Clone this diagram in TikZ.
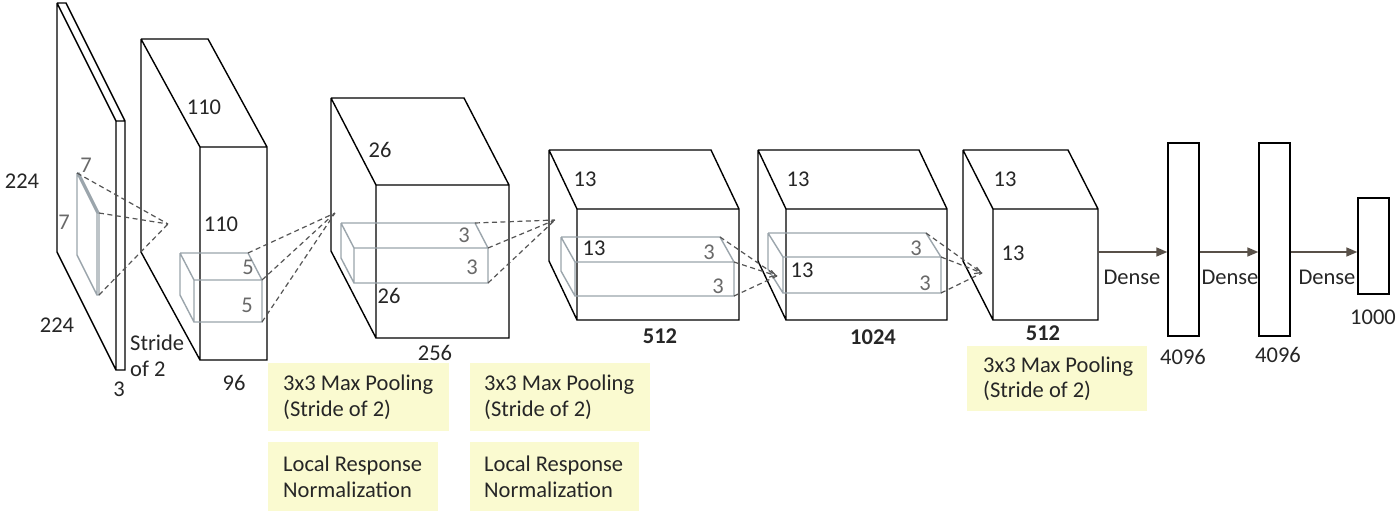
\documentclass[tikz,border=0pt]{standalone}
\usepackage{fontspec}
\setmainfont{Carlito}
\usetikzlibrary{arrows.meta}
\definecolor{kgray}{RGB}{155,165,172}
\definecolor{tgray}{RGB}{105,105,105}
\definecolor{dgray}{RGB}{85,85,85}
\definecolor{ybg}{RGB}{250,250,208}
\definecolor{arr}{RGB}{88,80,72}
\newcommand{\mkcube}[8]{%
  \coordinate (#1-btl) at (#2,#3);
  \coordinate (#1-btr) at (#2+#4,#3);
  \coordinate (#1-bbl) at (#2,#3+#5);
  \coordinate (#1-ftl) at (#2+#6,#3+#7);
  \coordinate (#1-ftr) at (#2+#4+#6,#3+#7);
  \coordinate (#1-fbl) at (#2+#6,#3+#5+#7);
  \coordinate (#1-fbr) at (#2+#4+#6,#3+#5+#7);
  \draw[#8] (#1-ftl) rectangle (#1-fbr)
    (#1-btl) -- (#1-btr) -- (#1-ftr)
    (#1-btl) -- (#1-ftl)
    (#1-btl) -- (#1-bbl) -- (#1-fbl);
}
\begin{document}
\begin{tikzpicture}[x=1pt,y=-1pt,
  layer/.style={draw=black,line width=1.4pt,line join=miter},
  kern/.style={draw=kgray,line width=1.4pt},
  dsh/.style={draw=dgray,line width=1.2pt,dash pattern=on 5pt off 3.5pt},
  dsharr/.style={dsh,-{Straight Barb[length=6pt,width=7pt]}},
  lbl/.style={font=\fontsize{22.5}{26}\selectfont,inner sep=0pt,text=black!85},
  blbl/.style={lbl,font=\fontsize{22.5}{26}\selectfont\bfseries},
  glbl/.style={lbl,text=tgray},
  fcbox/.style={draw=black,line width=1.4pt,minimum width=31pt,inner sep=0pt},
  densearr/.style={draw=arr,line width=1.4pt,-{Triangle[length=11pt,width=9pt]}},
  ybox/.style={fill=ybg,anchor=north west,inner sep=0pt},
  ytext/.style={anchor=west,align=left,inner sep=0pt,
    font=\fontsize{22.5}{25.5}\selectfont,text=black!85}
]
\useasboundingbox[fill=white] (0,0) rectangle (1400,516);

% layers
\mkcube{in}{57}{3}{9}{249}{59}{118}{layer}
\mkcube{la}{141}{39}{67}{213}{59}{108}{layer}
\mkcube{lb}{331}{98}{133}{153}{45}{87}{layer}
\mkcube{lc}{549}{150}{162}{111}{28}{59}{layer}
\mkcube{ld}{758}{150}{161}{111}{28}{59}{layer}
\mkcube{le}{963}{150}{105}{111}{30}{59}{layer}

% kernels
\mkcube{ka}{77}{173}{2}{82}{20}{40}{kern}
\mkcube{kb}{180}{253}{68}{42}{14}{27}{kern}
\mkcube{kc}{341}{223}{134}{35}{13}{25}{kern}
\mkcube{kd}{561}{237}{159}{34}{14}{25}{kern}
\mkcube{ke}{768}{233}{158}{36}{15}{24}{kern}

% convergence points
\coordinate (pa) at (168,224);
\coordinate (pb) at (335,213);
\coordinate (pc) at (555,220);
\coordinate (pd) at (777,276);
\coordinate (pe) at (982,273);

\draw[dsh] (ka-btl) -- (pa) (ka-ftr) -- (pa) (ka-fbr) -- (pa);
\draw[dsh] (kb-btr) -- (pb) (kb-ftr) -- (pb) (kb-fbr) -- (pb);
\draw[dsh] (kc-btr) -- (pc) (kc-ftr) -- (pc) (kc-fbr) -- (pc);
\draw[dsh] (kd-btr) -- (pd) (kd-fbr) -- (pd);
\draw[dsharr] (kd-ftr) -- (pd);
\draw[dsh] (ke-btr) -- (pe) (ke-fbr) -- (pe);
\draw[dsharr] (ke-ftr) -- (pe);

% labels
\node[lbl] (t224a) at (22,181) {224};
\node[lbl] (t224b) at (57,325) {224};
\node[glbl] (t7a) at (86,165) {7};
\node[glbl] (t7b) at (64,222) {7};
\node[lbl,anchor=west,align=left] (tstride) at (130,356) {Stride\\of 2};
\node[lbl] (t3) at (119,389) {3};
\node[lbl] (t110a) at (204,107) {110};
\node[lbl] (t110b) at (221,224) {110};
\node[lbl] (t96) at (234,383) {96};
\node[glbl] (t5a) at (248,267) {5};
\node[glbl] (t5b) at (247,305) {5};
\node[lbl] (t26a) at (380,150) {26};
\node[lbl] (t26b) at (389,296) {26};
\node[lbl] (t256) at (435,353) {256};
\node[glbl] (t3a) at (464,235) {3};
\node[glbl] (t3b) at (472,267) {3};
\node[lbl] (t13a) at (585,179) {13};
\node[lbl] (t13b) at (594,248) {13};
\node[blbl] (t512a) at (660,336) {512};
\node[glbl] (t3c) at (709,252) {3};
\node[glbl] (t3d) at (718,286) {3};
\node[lbl] (t13c) at (798,179) {13};
\node[lbl] (t13d) at (802,270) {13};
\node[blbl] (t1024) at (873,337) {1024};
\node[glbl] (t3e) at (916,248) {3};
\node[glbl] (t3f) at (925,283) {3};
\node[lbl] (t13e) at (1005,179) {13};
\node[lbl] (t13f) at (1013,253) {13};
\node[blbl] (t512b) at (1043,333) {512};

% dense layers
\node[fcbox,minimum height=193pt] (fca) at (1183.5,239.5) {};
\node[fcbox,minimum height=193pt] (fcb) at (1274.5,239.5) {};
\node[fcbox,minimum height=96pt] (fcc) at (1373.5,246) {};
\coordinate (d0) at (1098,252);
\draw[densearr] (d0) -- (fca.west |- d0);
\draw[densearr] (fca.east |- d0) -- (fcb.west |- d0);
\draw[densearr] (fcb.east |- d0) -- (fcc.west |- d0);
\node[lbl] (tda) at (1132,277) {Dense};
\node[lbl] (tdb) at (1230,277) {Dense};
\node[lbl] (tdc) at (1327,277) {Dense};
\node[lbl] (t4096a) at (1183,357) {4096};
\node[lbl] (t4096b) at (1278,355) {4096};
\node[lbl] (t1000) at (1373,317) {1000};

% yellow boxes
\node[ybox,minimum width=181pt,minimum height=68pt] (ya) at (268,363) {};
\node[ytext] (yat) at ([xshift=15pt]ya.west) {3x3 Max Pooling\\(Stride of 2)};
\node[ybox,minimum width=180pt,minimum height=68pt] (yb) at (470,363) {};
\node[ytext] (ybt) at ([xshift=14pt]yb.west) {3x3 Max Pooling\\(Stride of 2)};
\node[ybox,minimum width=170pt,minimum height=69pt] (yc) at (268,442) {};
\node[ytext] (yct) at ([xshift=15pt]yc.west) {Local Response\\Normalization};
\node[ybox,minimum width=169pt,minimum height=69pt] (yd) at (470,442) {};
\node[ytext] (ydt) at ([xshift=14pt]yd.west) {Local Response\\Normalization};
\node[ybox,minimum width=180pt,minimum height=65pt] (ye) at (967,346) {};
\node[ytext] (yet) at ([xshift=16pt]ye.west) {3x3 Max Pooling\\(Stride of 2)};
\end{tikzpicture}
\end{document}
